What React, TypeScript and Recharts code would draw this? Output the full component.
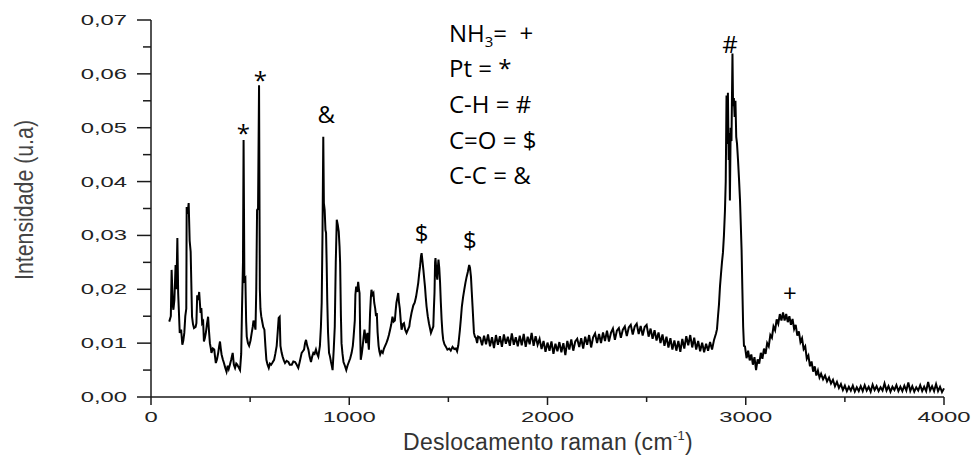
import React from "react"
import { LineChart, Line, XAxis, YAxis, ReferenceDot } from "recharts"

// low-wavenumber region, read point by point (cm-1, intensity)
const lowRegion: [number, number][] = [
  [92, 0.014], [100, 0.015], [104, 0.0236], [110, 0.017], [113, 0.0162], [118, 0.018], [124, 0.0245],
  [128, 0.02], [133, 0.0295], [137, 0.0193], [145, 0.0119], [152, 0.0125], [158, 0.0097], [163, 0.0105],
  [168, 0.0119], [173, 0.015], [178, 0.0164], [180, 0.0353], [185, 0.034], [190, 0.036], [195, 0.029],
  [200, 0.027], [207, 0.0149], [212, 0.0135], [217, 0.0128], [225, 0.013], [229, 0.0137], [233, 0.0189],
  [238, 0.018], [243, 0.0195], [250, 0.0156], [254, 0.0165], [258, 0.0137], [263, 0.014], [267, 0.0103],
  [272, 0.011], [277, 0.012], [282, 0.0135], [288, 0.0149], [292, 0.0125], [297, 0.01], [301, 0.0092],
  [305, 0.0082], [312, 0.009], [319, 0.0088], [323, 0.0075], [327, 0.0063], [333, 0.007], [339, 0.0082],
  [344, 0.0095], [348, 0.0103], [352, 0.009], [356, 0.0079], [362, 0.007], [368, 0.0063], [374, 0.0055],
  [381, 0.0047], [387, 0.0058], [392, 0.0052], [398, 0.006], [405, 0.007], [412, 0.0082], [418, 0.006],
  [424, 0.0054], [430, 0.0062], [435, 0.006], [442, 0.0055], [449, 0.005], [455, 0.008], [459, 0.0162],
  [464, 0.025], [467, 0.0477], [471, 0.0217], [476, 0.022], [480, 0.014], [483, 0.0112], [489, 0.01],
  [495, 0.0095], [502, 0.0105], [508, 0.0119], [513, 0.013], [517, 0.0142], [522, 0.0135], [527, 0.0125],
  [531, 0.02], [535, 0.0347], [540, 0.035], [545, 0.0579], [549, 0.02], [552, 0.0164], [556, 0.015],
  [560, 0.0142], [566, 0.013], [572, 0.0125], [577, 0.0095], [582, 0.0069], [588, 0.006], [594, 0.0054],
  [600, 0.0062], [606, 0.006], [613, 0.0064], [621, 0.0069], [627, 0.008], [634, 0.0095], [639, 0.012],
  [644, 0.0147], [649, 0.0149], [653, 0.0095], [659, 0.0082], [664, 0.0075], [670, 0.0068], [676, 0.0063],
  [684, 0.0067], [693, 0.0065], [700, 0.006], [710, 0.006], [718, 0.0066], [727, 0.0065], [735, 0.006],
  [743, 0.0054], [750, 0.0065], [760, 0.0082], [766, 0.0085], [772, 0.0088], [777, 0.01], [782, 0.0106],
  [788, 0.0095], [794, 0.0088], [800, 0.0075], [807, 0.0065], [813, 0.0075], [819, 0.0082], [825, 0.008],
  [832, 0.0088], [838, 0.008], [844, 0.0075], [852, 0.0095], [857, 0.013], [861, 0.0175], [865, 0.03],
  [869, 0.0483], [872, 0.036], [876, 0.0347], [880, 0.031], [883, 0.0305], [886, 0.025], [889, 0.018],
  [893, 0.012], [898, 0.0082], [903, 0.0075], [908, 0.0065], [912, 0.0058], [916, 0.005], [922, 0.009],
  [927, 0.0131], [932, 0.025], [937, 0.0329], [942, 0.032], [947, 0.0307], [951, 0.028], [954, 0.0249],
  [958, 0.015], [961, 0.01], [966, 0.008], [971, 0.0065], [978, 0.0058], [985, 0.005], [991, 0.0058],
  [998, 0.0065], [1005, 0.0072], [1012, 0.0082], [1018, 0.0095], [1022, 0.0112], [1028, 0.0142],
  [1031, 0.019], [1035, 0.0205], [1040, 0.0195], [1045, 0.0214], [1049, 0.02], [1052, 0.0193],
  [1055, 0.012], [1058, 0.0069], [1063, 0.008], [1068, 0.0095], [1072, 0.011], [1077, 0.0125],
  [1081, 0.0112], [1085, 0.01], [1089, 0.0115], [1092, 0.0119], [1096, 0.01], [1099, 0.0088],
  [1102, 0.012], [1105, 0.0156], [1109, 0.0185], [1112, 0.0199], [1117, 0.019], [1122, 0.0193],
  [1126, 0.0175], [1131, 0.0164], [1135, 0.015], [1139, 0.0156], [1143, 0.012], [1148, 0.0095],
  [1152, 0.0085], [1156, 0.0079], [1162, 0.0085], [1169, 0.0082], [1175, 0.009], [1181, 0.0095],
  [1187, 0.01], [1193, 0.0106], [1200, 0.0115], [1206, 0.0125], [1212, 0.0135], [1218, 0.0149],
  [1224, 0.014], [1230, 0.0142], [1234, 0.016], [1238, 0.0175], [1243, 0.0185], [1247, 0.0193],
  [1251, 0.0175], [1255, 0.0164], [1260, 0.014], [1264, 0.0125], [1270, 0.0135], [1276, 0.0137],
  [1282, 0.0125], [1289, 0.0119], [1296, 0.0125], [1303, 0.0131], [1306, 0.014], [1314, 0.0156],
  [1323, 0.017], [1330, 0.0175], [1337, 0.0186], [1343, 0.02], [1348, 0.0212], [1353, 0.023],
  [1357, 0.0242], [1362, 0.0262], [1365, 0.0267], [1370, 0.025], [1374, 0.0236], [1378, 0.022],
  [1382, 0.0205], [1386, 0.0185], [1390, 0.0168], [1396, 0.015], [1402, 0.0137], [1407, 0.0128],
  [1412, 0.0119], [1418, 0.0125], [1424, 0.0131], [1427, 0.0165], [1430, 0.0193], [1433, 0.025],
  [1435, 0.0258], [1440, 0.023], [1444, 0.0218], [1447, 0.024], [1450, 0.0255], [1454, 0.024],
  [1458, 0.0213], [1462, 0.0175], [1466, 0.0143], [1470, 0.012], [1474, 0.0106], [1480, 0.0098],
  [1488, 0.0093], [1495, 0.0088], [1504, 0.009], [1512, 0.0086], [1521, 0.0093], [1530, 0.0089],
  [1538, 0.009], [1544, 0.0085], [1550, 0.0096], [1554, 0.011], [1558, 0.0124], [1563, 0.0145],
  [1568, 0.0168], [1574, 0.0185], [1580, 0.0199], [1586, 0.0212], [1592, 0.0223], [1598, 0.0232],
  [1605, 0.0245], [1609, 0.024], [1614, 0.0223], [1618, 0.0195], [1622, 0.0168], [1626, 0.014],
  [1629, 0.0119], [1634, 0.0112], [1639, 0.011], [1645, 0.01], [1650, 0.0112],
]

// flat noisy stretch 1660..2840, one reading every 10 cm-1
const midStart = 1660
const midValues = [
  0.011, 0.0096, 0.0114, 0.0098, 0.0116, 0.0094, 0.0111, 0.0091, 0.0115, 0.0097,
  0.0113, 0.0093, 0.0116, 0.0099, 0.0112, 0.0095, 0.0118, 0.0097, 0.0111, 0.0094,
  0.0114, 0.0096, 0.0117, 0.0093, 0.0112, 0.0098, 0.0119, 0.0095, 0.0113, 0.0097,
  0.0108, 0.0089, 0.0104, 0.0084, 0.0101, 0.0086, 0.0103, 0.008, 0.0099, 0.0085,
  0.0102, 0.0083, 0.01, 0.0078, 0.0104, 0.0088, 0.0107, 0.0086, 0.0103, 0.0108,
  0.0093, 0.0109, 0.009, 0.0112, 0.0097, 0.0115, 0.0092, 0.0111, 0.0118, 0.01,
  0.0117, 0.01, 0.012, 0.0104, 0.0123, 0.0103, 0.0119, 0.0127, 0.0106, 0.0123,
  0.0128, 0.011, 0.0125, 0.0131, 0.0113, 0.0129, 0.0134, 0.0116, 0.0131, 0.0136,
  0.0117, 0.0132, 0.0114, 0.013, 0.0134, 0.0112, 0.0127, 0.0108, 0.0124, 0.0105,
  0.012, 0.01, 0.0116, 0.0095, 0.0112, 0.0092, 0.0109, 0.0088, 0.0105, 0.0086,
  0.0104, 0.0084, 0.0108, 0.009, 0.0113, 0.0096, 0.0115, 0.0092, 0.011, 0.0088,
  0.0104, 0.0085, 0.0101, 0.0083, 0.0099, 0.0086, 0.0102, 0.0088, 0.0106,
]

// C-H stretch band
const chRegion: [number, number][] = [
  [2850, 0.0118], [2855, 0.0126], [2860, 0.015], [2865, 0.0172], [2870, 0.0205], [2875, 0.0228],
  [2880, 0.025], [2885, 0.0268], [2890, 0.03], [2895, 0.0345], [2899, 0.04], [2903, 0.056],
  [2907, 0.047], [2910, 0.0565], [2914, 0.044], [2917, 0.049], [2920, 0.0365], [2924, 0.05],
  [2928, 0.0475], [2933, 0.0638], [2936, 0.054], [2940, 0.0555], [2944, 0.052], [2948, 0.055],
  [2952, 0.0483], [2956, 0.047], [2961, 0.044], [2966, 0.0405], [2971, 0.0366], [2975, 0.032],
  [2979, 0.0273], [2983, 0.0199], [2987, 0.013], [2991, 0.0095],
]

// NH3 hump, every 8 cm-1
const humpStart = 2996
const humpValues = [
  0.0094, 0.0072, 0.0086, 0.0068, 0.0079, 0.006, 0.0074, 0.005, 0.007, 0.0062,
  0.0082, 0.0071, 0.009, 0.008, 0.01, 0.0094, 0.0115, 0.011, 0.0131, 0.0124,
  0.0144, 0.0136, 0.0154, 0.0142, 0.0157, 0.0142, 0.0154, 0.0139, 0.015, 0.0134,
  0.0145, 0.0126, 0.0134, 0.0114, 0.0122, 0.0102, 0.0109, 0.0089, 0.0094, 0.0071,
  0.0077, 0.0057, 0.0066, 0.0047, 0.0057, 0.004, 0.0049, 0.0036,
]

// tail to 4000, every 10 cm-1
const tailStart = 3380
const tailValues = [
  0.0043, 0.0033, 0.004, 0.0029, 0.0036, 0.0025, 0.0032, 0.002, 0.0028, 0.0017,
  0.0024, 0.0013, 0.0021, 0.0011, 0.0019, 0.0012, 0.0021, 0.001, 0.0018, 0.0011,
  0.002, 0.0011, 0.0022, 0.0012, 0.0019, 0.001, 0.0023, 0.0013, 0.002, 0.0011,
  0.0018, 0.0012, 0.0025, 0.0012, 0.002, 0.001, 0.0019, 0.0013, 0.0022, 0.0011,
  0.0019, 0.0011, 0.0021, 0.0012, 0.0027, 0.0011, 0.002, 0.001, 0.0018, 0.0012,
  0.0022, 0.0011, 0.0019, 0.0011, 0.0028, 0.0012, 0.002, 0.0011, 0.0024, 0.0011,
  0.0019, 0.0009, 0.0016,
]

const xTicks = [0, 500, 1000, 1500, 2000, 2500, 3000, 3500, 4000]
const yTicks = [0, 0.005, 0.01, 0.015, 0.02, 0.025, 0.03, 0.035, 0.04, 0.045, 0.05, 0.055, 0.06, 0.065, 0.07]

// band markers: position of the symbol (x, baseline) in data units
const peakMarks = [
  { x: 466, y: 0.0474, text: "*" },
  { x: 551, y: 0.0572, text: "*" },
  { x: 884, y: 0.0509, text: "&" },
  { x: 1365, y: 0.0288, text: "$" },
  { x: 1609, y: 0.0275, text: "$" },
  { x: 2920, y: 0.0639, text: "#" },
  { x: 3223, y: 0.0176, text: "+" },
]

const legendLines = ["Pt = *", "C-H = #", "C=O = $", "C-C = &"]

const data = [
  ...lowRegion.map(([x, y]) => ({ x, y })),
  ...midValues.map((y, i) => ({ x: midStart + i * 10, y })),
  ...chRegion.map(([x, y]) => ({ x, y })),
  ...humpValues.map((y, i) => ({ x: humpStart + i * 8, y })),
  ...tailValues.map((y, i) => ({ x: tailStart + i * 10, y })),
]

const AXIS = "#1a1a1a"
const TICK_FONT = "'Liberation Sans', Arial, sans-serif"

function XTick(props: any) {
  const { x, y, payload } = props
  const major = payload.value % 1000 === 0
  return (
    <g>
      <line x1={x} y1={y} x2={x} y2={y + (major ? 8 : 5)} stroke={AXIS} strokeWidth={1.5} />
      {major && (
        <text
          transform={`translate(${x},${y + 25}) scale(1.7,1)`}
          textAnchor="middle"
          fontSize={14}
          fontFamily={TICK_FONT}
          fill="#222"
        >
          {payload.value}
        </text>
      )}
    </g>
  )
}

function YTick(props: any) {
  const { x, y, payload } = props
  const major = Math.round(payload.value * 1000) % 10 === 0
  return (
    <g>
      <line x1={x - (major ? 14 : 8)} y1={y} x2={x} y2={y} stroke={AXIS} strokeWidth={1.5} />
      {major && (
        <text
          transform={`translate(${x - 24},${y + 5}) scale(1.7,1)`}
          textAnchor="end"
          fontSize={14}
          fontFamily={TICK_FONT}
          fill="#222"
        >
          {payload.value.toFixed(2).replace(".", ",")}
        </text>
      )}
    </g>
  )
}

export default function App() {
  return (
    <div style={{ position: "absolute", left: 0, top: 0, width: 971, height: 459, background: "#fff" }}>
      <LineChart width={971} height={459} data={data} margin={{ top: 20, right: 27, bottom: 32, left: 0 }}>
        <XAxis
          dataKey="x"
          type="number"
          domain={[0, 4000]}
          ticks={xTicks}
          interval={0}
          height={30}
          tickLine={false}
          tickSize={0}
          tickMargin={0}
          axisLine={{ stroke: AXIS, strokeWidth: 1.5 }}
          tick={(p: any) => <XTick {...p} />}
        />
        <YAxis
          type="number"
          domain={[0, 0.07]}
          ticks={yTicks}
          interval={0}
          width={151}
          tickLine={false}
          tickSize={0}
          tickMargin={0}
          axisLine={{ stroke: AXIS, strokeWidth: 1.5 }}
          tick={(p: any) => <YTick {...p} />}
        />
        <Line
          dataKey="y"
          type="linear"
          dot={false}
          stroke="#000"
          strokeWidth={2}
          isAnimationActive={false}
        />
        {peakMarks.map((m, i) => (
          <ReferenceDot
            key={i}
            x={m.x}
            y={m.y}
            r={0}
            shape={(p: any) => (
              <text x={p.cx} y={p.cy} textAnchor="middle" fontSize={24} fontFamily="'Open Sans', sans-serif" fill="#000">
                {m.text}
              </text>
            )}
          />
        ))}
      </LineChart>

      <svg width={971} height={459} style={{ position: "absolute", left: 0, top: 0, pointerEvents: "none" }}>
        <text x={449} y={42} fontSize={24} fontFamily="'Open Sans', sans-serif" fill="#000" style={{ whiteSpace: "pre" }}>
          NH<tspan fontSize={15} dy={5}>3</tspan>
          <tspan dy={-5}>{"=  +"}</tspan>
        </text>
        {legendLines.map((t, i) => (
          <text
            key={t}
            x={449}
            y={77 + i * 35.8}
            fontSize={24}
            fontFamily="'Open Sans', sans-serif"
            fill="#000"
            style={{ whiteSpace: "pre" }}
          >
            {t}
          </text>
        ))}
        <text
          transform="translate(33,200) rotate(-90) scale(0.82,1)"
          textAnchor="middle"
          fontSize={26}
          fontFamily={TICK_FONT}
          fill="#444"
        >
          Intensidade (u.a)
        </text>
        <text x={548} y={450} textAnchor="middle" fontSize={23} fontFamily={TICK_FONT} fill="#333" letterSpacing={0.3}>
          Deslocamento raman (cm<tspan fontSize={13} dy={-10}>-1</tspan>
          <tspan dy={10}>)</tspan>
        </text>
      </svg>
    </div>
  )
}
